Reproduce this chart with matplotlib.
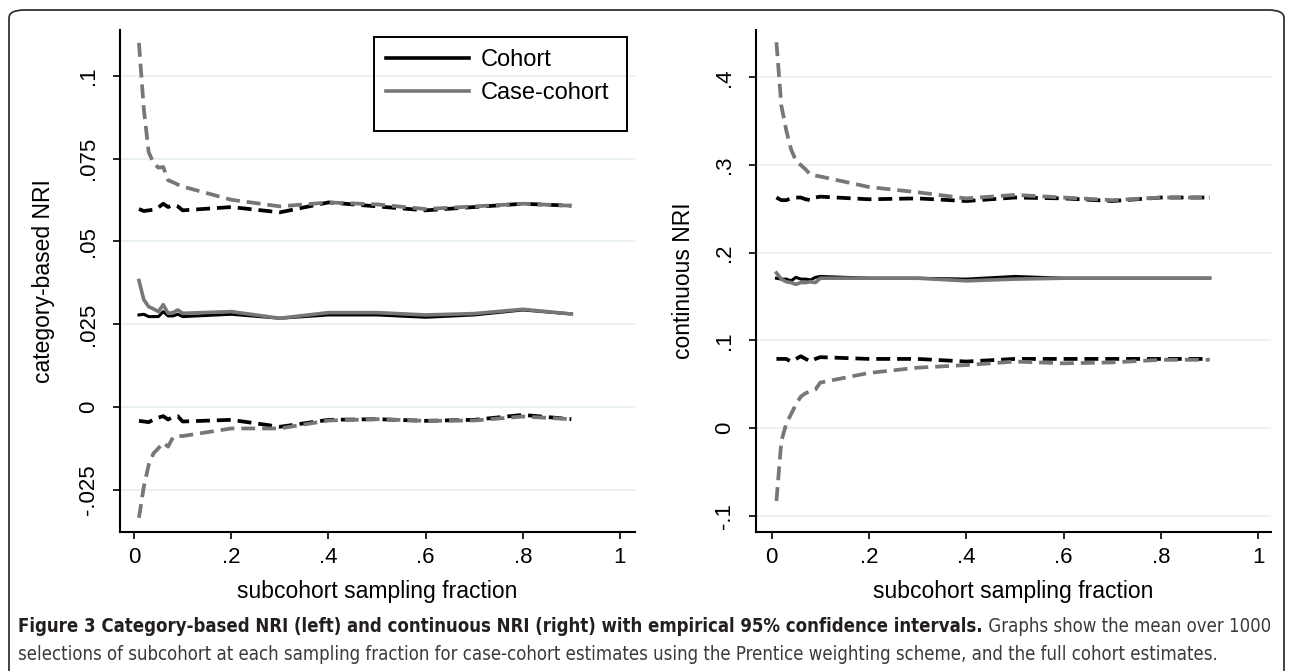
import numpy as np
import matplotlib.pyplot as plt
from matplotlib.lines import Line2D
from matplotlib.patches import Rectangle, FancyBboxPatch

plt.rcParams['font.family'] = ['Liberation Sans', 'DejaVu Sans']
plt.rcParams['lines.scale_dashes'] = False

# subcohort sampling fractions
frac = [0.01, 0.02, 0.03, 0.04, 0.05, 0.06, 0.07, 0.08, 0.09, 0.10,
        0.2, 0.3, 0.4, 0.5, 0.6, 0.7, 0.8, 0.9]

# category-based NRI (left)
cat_cohort_hi = [0.0598, 0.0592, 0.0594, 0.0596, 0.0603, 0.0614, 0.0604, 0.0610, 0.0606, 0.0594,
                 0.0604, 0.0588, 0.0618, 0.0606, 0.0594, 0.0604, 0.0614, 0.0608]
cat_cohort_est = [0.0278, 0.0280, 0.0273, 0.0273, 0.0273, 0.0288, 0.0275, 0.0275, 0.0280, 0.0273,
                  0.0280, 0.0268, 0.0278, 0.0278, 0.0271, 0.0278, 0.0293, 0.0281]
cat_cohort_lo = [-0.0042, -0.0044, -0.0046, -0.0038, -0.0032, -0.0028, -0.0038, -0.0030, -0.0028, -0.0044,
                 -0.0039, -0.0060, -0.0039, -0.0037, -0.0042, -0.0039, -0.0024, -0.0037]
cat_cc_hi = [0.110, 0.090, 0.077, 0.0737, 0.0723, 0.0725, 0.0685, 0.0679, 0.0672, 0.0666,
             0.0626, 0.0606, 0.0618, 0.0612, 0.0598, 0.0606, 0.0614, 0.0608]
cat_cc_est = [0.0382, 0.0324, 0.0303, 0.0296, 0.0288, 0.0309, 0.0283, 0.0285, 0.0293, 0.0283,
              0.0288, 0.0268, 0.0285, 0.0285, 0.0278, 0.0282, 0.0295, 0.0281]
cat_cc_lo = [-0.0335, -0.0241, -0.0175, -0.0140, -0.0125, -0.0108, -0.0120, -0.0092, -0.0088, -0.0088,
             -0.0065, -0.0065, -0.0041, -0.0037, -0.0042, -0.0041, -0.0029, -0.0037]

# continuous NRI (right)
con_cohort_hi = [0.263, 0.260, 0.260, 0.262, 0.263, 0.263, 0.261, 0.260, 0.263, 0.264,
                 0.261, 0.262, 0.259, 0.263, 0.262, 0.259, 0.263, 0.263]
con_cohort_est = [0.171, 0.170, 0.170, 0.168, 0.172, 0.170, 0.170, 0.169, 0.172, 0.173,
                  0.171, 0.171, 0.170, 0.173, 0.171, 0.171, 0.171, 0.171]
con_cohort_lo = [0.079, 0.079, 0.079, 0.076, 0.079, 0.082, 0.079, 0.076, 0.079, 0.081,
                 0.079, 0.079, 0.076, 0.079, 0.079, 0.079, 0.079, 0.079]
con_cc_hi = [0.440, 0.368, 0.340, 0.318, 0.305, 0.300, 0.295, 0.289, 0.288, 0.287,
             0.275, 0.269, 0.262, 0.266, 0.263, 0.260, 0.263, 0.263]
con_cc_est = [0.177, 0.170, 0.167, 0.166, 0.164, 0.166, 0.166, 0.167, 0.166, 0.171,
              0.171, 0.171, 0.168, 0.170, 0.171, 0.171, 0.171, 0.171]
con_cc_lo = [-0.083, -0.015, 0.005, 0.016, 0.027, 0.036, 0.040, 0.042, 0.044, 0.052,
             0.063, 0.069, 0.072, 0.076, 0.074, 0.075, 0.078, 0.078]

x_ticks = [0, 0.2, 0.4, 0.6, 0.8, 1]
x_ticklabels = ['0', '.2', '.4', '.6', '.8', '1']
cat_ticks = [-0.025, 0, 0.025, 0.05, 0.075, 0.1]
cat_ticklabels = ['-.025', '0', '.025', '.05', '.075', '.1']
con_ticks = [-0.1, 0, 0.1, 0.2, 0.3, 0.4]
con_ticklabels = ['-.1', '0', '.1', '.2', '.3', '.4']

black = '#000000'
grey = '#777777'
grid_col = '#e8f0f2'
W, H = 1292, 671

fig = plt.figure(figsize=(W / 100, H / 100), dpi=100)

# rounded frame round the whole figure
frame = FancyBboxPatch((9 / W, -0.1), (1284 - 9) / W, (H - 10) / H + 0.1,
                       boxstyle='round,pad=0,rounding_size=0.012',
                       transform=fig.transFigure, fill=False,
                       edgecolor='#333333', linewidth=1.3, clip_on=False)
fig.patches.append(frame)

ax1 = fig.add_axes([120 / W, 1 - 531.7 / H, 515 / W, 501.7 / H])
ax2 = fig.add_axes([756 / W, 1 - 531.7 / H, 515 / W, 501.7 / H])

dash = (10, 5)
lw = 2.7


def draw_panel(ax, est_c, lo_c, hi_c, est_cc, lo_cc, hi_cc):
    ax.plot(frac, hi_c, color=black, lw=lw, dashes=dash, zorder=3)
    ax.plot(frac, lo_c, color=black, lw=lw, dashes=dash, zorder=3)
    ax.plot(frac, hi_cc, color=grey, lw=lw, dashes=dash, zorder=3)
    ax.plot(frac, lo_cc, color=grey, lw=lw, dashes=dash, zorder=3)
    ax.plot(frac, est_c, color=black, lw=2.2, zorder=4)
    ax.plot(frac, est_cc, color=grey, lw=2.6, zorder=4)
    for s in ['top', 'right']:
        ax.spines[s].set_visible(False)
    for s in ['left', 'bottom']:
        ax.spines[s].set_linewidth(1.5)
    ax.tick_params(direction='out', length=5, width=1.2, labelsize=16)
    ax.tick_params(axis='x', pad=6)
    ax.tick_params(axis='y', pad=10)
    ax.set_xticks(x_ticks)
    ax.set_xticklabels(x_ticklabels)
    ax.grid(axis='y', color=grid_col, lw=1.3, zorder=0)
    ax.set_axisbelow(True)
    ax.set_xlabel('subcohort sampling fraction', fontsize=16.5, labelpad=9)


draw_panel(ax1, cat_cohort_est, cat_cohort_lo, cat_cohort_hi, cat_cc_est, cat_cc_lo, cat_cc_hi)
ax1.set_xlim(-0.029, 1.031)
ax1.set_ylim(-0.0377, 0.1139)
ax1.set_yticks(cat_ticks)
ax1.set_yticklabels(cat_ticklabels, rotation=90, va='center')
ax1.set_ylabel('category-based NRI', fontsize=16.5, labelpad=17)

draw_panel(ax2, con_cohort_est, con_cohort_lo, con_cohort_hi, con_cc_est, con_cc_lo, con_cc_hi)
ax2.set_xlim(-0.032, 1.026)
ax2.set_ylim(-0.118, 0.454)
ax2.set_yticks(con_ticks)
ax2.set_yticklabels(con_ticklabels, rotation=90, va='center')
ax2.set_ylabel('continuous NRI', fontsize=16.5, labelpad=14)

# legend box (Stata style, with empty space under the keys)
ax1.add_patch(Rectangle((0.493, 0.799), 0.491, 0.187, transform=ax1.transAxes,
                        fill=False, edgecolor=black, lw=1.4, zorder=5, clip_on=False))
handles = [Line2D([], [], color=black, lw=2.6), Line2D([], [], color=grey, lw=2.6)]
ax1.legend(handles, ['Cohort', 'Case-cohort'], loc='upper left',
           bbox_to_anchor=(0.494, 0.985), frameon=False, fontsize=17,
           handlelength=3.5, handletextpad=0.5, labelspacing=0.45, borderpad=0)

# caption, sized so the first line spans the frame width
cap_font = ['DejaVu Sans']
bold_part = ('Figure 3 Category-based NRI (left) and continuous NRI (right) '
             'with empirical 95% confidence intervals.')
rest_part = ' Graphs show the mean over 1000'
line2 = ('selections of subcohort at each sampling fraction for case-cohort estimates '
         'using the Prentice weighting scheme, and the full cohort estimates.')
renderer = fig.canvas.get_renderer()
probe_b = fig.text(0, 0, bold_part, fontsize=13, fontweight='bold', family=cap_font,
                   stretch='condensed')
probe_r = fig.text(0, 0, rest_part, fontsize=13, family=cap_font, stretch='condensed')
width = probe_b.get_window_extent(renderer).width + probe_r.get_window_extent(renderer).width
probe_b.remove()
probe_r.remove()
cap_size = 13 * 1259 / width

t1 = fig.text(18 / W, 1 - 626 / H, bold_part, fontsize=cap_size, fontweight='bold',
              family=cap_font, stretch='condensed', color='#231f20', va='center')
bb = t1.get_window_extent(renderer)
fig.text(bb.x1 / W, 1 - 626 / H, rest_part, fontsize=cap_size, family=cap_font,
         stretch='condensed', color='#3a3a3a', va='center')
fig.text(18 / W, 1 - 655 / H, line2, fontsize=cap_size, family=cap_font,
         stretch='condensed', color='#3a3a3a', va='center')

fig.savefig('out.png', dpi=100)
